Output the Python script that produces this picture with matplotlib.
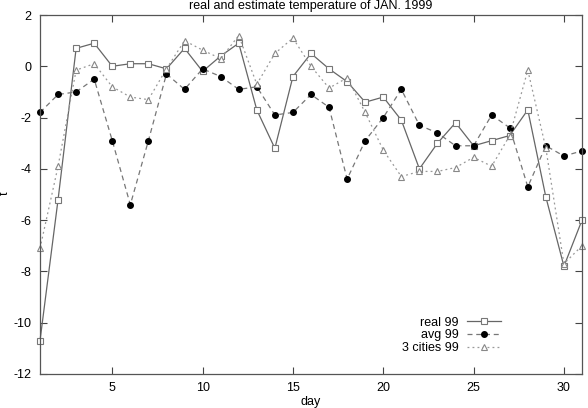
import numpy as np
import matplotlib
matplotlib.use('Agg')
import matplotlib.pyplot as plt

plt.rcParams['font.family'] = ['Liberation Sans', 'DejaVu Sans']
plt.rcParams['axes.unicode_minus'] = False

# daily values, January 1999
days = list(range(1, 32))
real_99 = [-10.7, -5.2, 0.7, 0.9, 0.0, 0.1, 0.1, -0.1, 0.7, -0.2,
           0.4, 0.9, -1.7, -3.2, -0.4, 0.5, -0.1, -0.6, -1.4, -1.2,
           -2.1, -4.0, -3.0, -2.2, -3.1, -2.9, -2.7, -1.7, -5.1, -7.8, -6.0]
avg_99 = [-1.8, -1.1, -1.0, -0.5, -2.9, -5.4, -2.9, -0.3, -0.9, -0.1,
          -0.4, -0.9, -0.8, -1.9, -1.8, -1.1, -1.6, -4.4, -2.9, -2.0,
          -0.9, -2.3, -2.6, -3.1, -3.1, -1.9, -2.4, -4.7, -3.1, -3.5, -3.3]
cities3_99 = [-7.1, -3.9, -0.15, 0.1, -0.8, -1.2, -1.3, -0.1, 1.0, 0.63,
              0.3, 1.2, -0.7, 0.5, 1.1, 0.0, -0.85, -0.45, -1.8, -3.27,
              -4.3, -4.1, -4.1, -3.95, -3.55, -3.9, -2.7, -0.15, -3.2, -7.7, -7.0]

fig = plt.figure(figsize=(5.88, 4.08), dpi=100)
ax = fig.add_axes([40/588, 1 - 374/408, 542/588, 359/408])

ax.plot(days, real_99, color='#666666', linewidth=0.9, linestyle='-',
        marker='s', markersize=4.2, markerfacecolor='white',
        markeredgecolor='#777777', markeredgewidth=0.8, label='real 99', clip_on=False)
ax.plot(days, avg_99, color='#777777', linewidth=0.9, linestyle=(0, (4, 3)),
        marker='o', markersize=4, markerfacecolor='black',
        markeredgecolor='black', label='avg 99', clip_on=False)
ax.plot(days, cities3_99, color='#999999', linewidth=0.9, linestyle=(0, (1.5, 2.5)),
        marker='^', markersize=4.2, markerfacecolor='white',
        markeredgecolor='#888888', markeredgewidth=0.8, label='3 cities 99', clip_on=False)

ax.set_xlim(1, 31)
ax.set_ylim(-12, 2)
ax.set_xticks([5, 10, 15, 20, 25, 30])
ax.set_yticks(range(-12, 3, 2))
ax.tick_params(direction='in', length=5, width=0.8, top=True, right=True,
               labelsize=9, colors='#444444', labelcolor='black', pad=6)
for s in ax.spines.values():
    s.set_color('#555555')
    s.set_linewidth(0.9)

ax.set_xlabel('day', fontsize=9, labelpad=1)
fig.text(0.008, 1 - 193/408, 't', rotation=90, fontsize=9, ha='center', va='center')
fig.text(0.528, 1 - 9/408, 'real and estimate temperature of JAN. 1999',
         fontsize=9, ha='center', va='baseline')

leg = ax.legend(loc='lower right', bbox_to_anchor=(0.862, 0.038), frameon=False,
                markerfirst=False, fontsize=9, handlelength=2.75,
                handletextpad=0.65, labelspacing=0.05, borderpad=0)
for t in leg.get_texts():
    t.set_ha('right')

fig.savefig('out.png', dpi=100)
